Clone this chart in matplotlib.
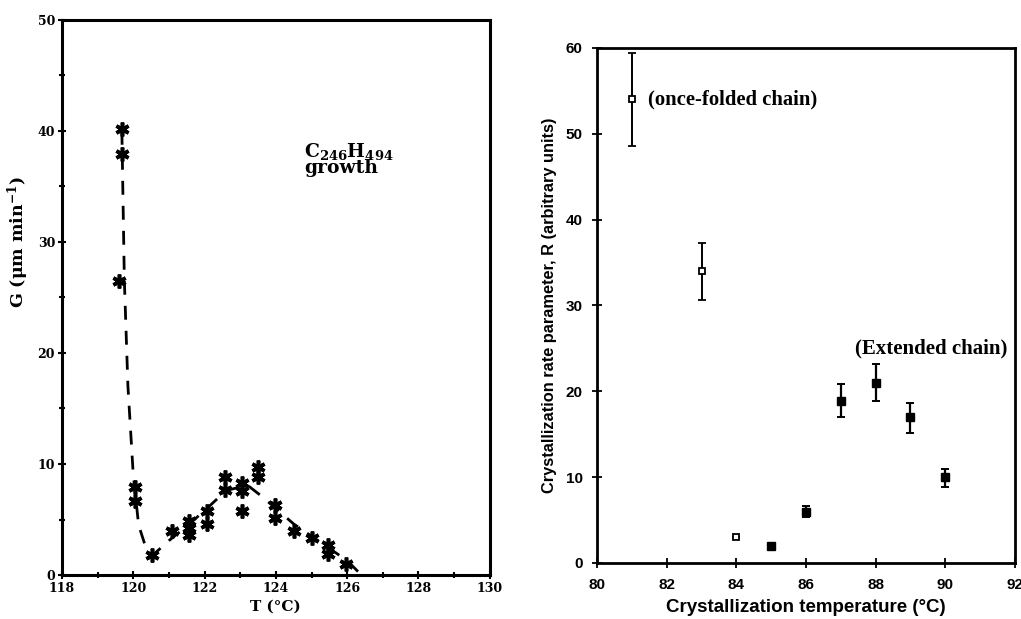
import matplotlib
matplotlib.use("Agg")
import matplotlib.pyplot as plt
import numpy as np

# left panel: growth rate G vs T (asterisks) + dashed guide curve
g_temp = [119.68, 119.68, 119.59, 120.05, 120.05, 120.52, 121.08, 121.55, 121.55, 121.55,
          122.06, 122.06, 122.57, 122.57, 123.04, 123.04, 123.04, 123.5, 123.5,
          123.98, 123.98, 124.5, 125.0, 125.47, 125.47, 125.98]
g_rate = [40.2, 37.9, 26.5, 7.9, 6.7, 1.85, 4.0, 4.9, 4.2, 3.6,
          5.8, 4.6, 8.8, 7.7, 8.3, 7.6, 5.8, 9.7, 8.8,
          6.3, 5.1, 4.0, 3.3, 2.7, 1.9, 1.0]
fit_temp = [119.68, 119.75, 119.85, 120.0, 120.15, 120.35, 120.55, 121.0, 121.5, 122.0,
            122.6, 123.2, 123.6, 124.0, 124.5, 125.0, 125.5, 126.0, 126.4]
fit_rate = [40.0, 26.5, 17.0, 9.0, 4.5, 2.5, 1.8, 3.1, 4.4, 5.8,
            7.6, 8.1, 7.1, 6.0, 4.6, 3.5, 2.4, 1.3, 0.0]

# right panel: crystallization rate parameter
folded_t = [81, 83, 84]
folded_r = [54.0, 34.0, 3.0]
folded_lo = [48.6, 30.6, 3.0]
folded_hi = [59.4, 37.3, 3.0]
ext_t = [85, 86, 87, 88, 89, 90]
ext_r = [2.0, 5.9, 18.9, 21.0, 17.0, 10.0]
ext_lo = [2.0, 5.4, 17.0, 18.9, 15.2, 8.9]
ext_hi = [2.0, 6.6, 20.8, 23.2, 18.6, 11.0]

plt.rcParams['mathtext.fontset'] = 'custom'
plt.rcParams['mathtext.rm'] = 'DejaVu Serif:bold'
plt.rcParams['mathtext.it'] = 'DejaVu Serif:bold'
plt.rcParams['mathtext.default'] = 'rm'
fig = plt.figure(figsize=(10.21, 6.19), dpi=100)

# ---------- left ----------
ax1 = fig.add_axes([0.0607, 0.071, 0.419, 0.897])
ax1.plot(fit_temp, fit_rate, color='black', lw=2, dashes=(5, 4))
ax1.plot(g_temp, g_rate, ls='none', marker=(6, 2, 0), ms=10, mew=2.6, color='black')
ax1.set_xlim(118, 130)
ax1.set_ylim(0, 50)
ax1.set_xticks(np.arange(118, 131, 2))
ax1.set_xticks(np.arange(119, 130, 2), minor=True)
ax1.set_yticks(np.arange(0, 51, 10))
ax1.set_yticks(np.arange(5, 50, 10), minor=True)
serif = {'family': 'DejaVu Serif', 'weight': 'bold'}
for lab in ax1.get_xticklabels() + ax1.get_yticklabels():
    lab.set_fontfamily('DejaVu Serif')
    lab.set_fontweight('bold')
    lab.set_fontsize(9)
ax1.tick_params(which='both', direction='inout', width=1.5)
ax1.tick_params(which='major', length=6, pad=2)
ax1.tick_params(which='minor', length=4)
for s in ax1.spines.values():
    s.set_linewidth(2.2)
ax1.set_xlabel('T (°C)', fontdict=serif, fontsize=11, labelpad=3)
ax1.set_ylabel('G ($\\mu$m min$^{-1}$)', fontdict=serif, fontsize=12.5)
ax1.yaxis.set_label_coords(-0.072, 0.6)
ax1.text(124.8, 35.8, 'C$_{246}$H$_{494}$\ngrowth', family='DejaVu Serif', weight='bold',
         fontsize=13.5, linespacing=0.85, va='bottom', ha='left')

# ---------- right ----------
ax2 = fig.add_axes([0.585, 0.0905, 0.409, 0.832])
ax2.errorbar(folded_t, folded_r,
             yerr=[np.subtract(folded_r, folded_lo), np.subtract(folded_hi, folded_r)],
             fmt='s', ms=5, mfc='white', mec='black', mew=1.3, ecolor='black',
             elinewidth=1.4, capsize=3, capthick=1.4)
ax2.errorbar(ext_t, ext_r,
             yerr=[np.subtract(ext_r, ext_lo), np.subtract(ext_hi, ext_r)],
             fmt='s', ms=6, mfc='black', mec='black', ecolor='black',
             elinewidth=1.6, capsize=3, capthick=1.4)
ax2.set_xlim(80, 92)
ax2.set_ylim(0, 60)
ax2.set_xticks(np.arange(80, 93, 2))
ax2.set_yticks(np.arange(0, 61, 10))
for lab in ax2.get_xticklabels() + ax2.get_yticklabels():
    lab.set_fontfamily('Liberation Sans')
    lab.set_fontweight('bold')
    lab.set_fontsize(11)
ax2.tick_params(direction='inout', length=7, width=1.3)
ax2.tick_params(axis='x', pad=7)
ax2.tick_params(axis='y', pad=7)
for s in ax2.spines.values():
    s.set_linewidth(2)
ax2.set_xlabel('Crystallization temperature (°C)', family='Liberation Sans',
               weight='bold', fontsize=13.5, labelpad=5)
ax2.set_ylabel('Crystallization rate parameter, R (arbitrary units)', family='Liberation Sans',
               weight='bold', fontsize=11.8, labelpad=6)
ax2.text(81.45, 54.0, '(once-folded chain)', family='Liberation Serif', weight='bold',
         fontsize=14.9, va='center', ha='left')
ax2.text(87.4, 25.0, '(Extended chain)', family='Liberation Serif', weight='bold',
         fontsize=15, va='center', ha='left')

fig.savefig('out.png', dpi=100)
